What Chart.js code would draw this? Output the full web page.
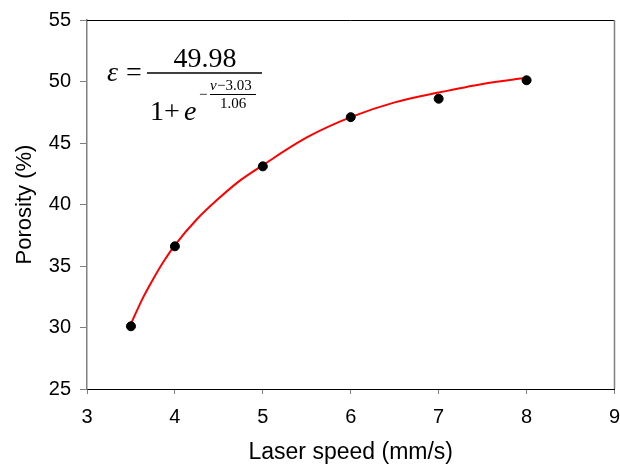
<!DOCTYPE html>
<html>
<head>
<meta charset="utf-8">
<script src="https://cdn.jsdelivr.net/npm/chart.js@4.4.1/dist/chart.umd.min.js"></script>
<style>
  html, body { margin: 0; padding: 0; background: #fff; }
</style>
</head>
<body>
<canvas id="chart" width="620" height="464"></canvas>
<script>
// measured points
const laserSpeed = [3.5, 4, 5, 6, 7, 8];
const porosity = [30.1, 36.6, 43.1, 47.1, 48.6, 50.1];

// fitted curve
const fitSpeed = [3.5, 3.625, 3.75, 3.875, 4.0, 4.25, 4.5, 4.75, 5.0, 5.5, 6.0, 6.5, 7.0, 7.5, 8.0];
const fitPorosity = [30.3, 32.25, 33.9, 35.4, 36.7, 38.8, 40.5, 42.0, 43.2, 45.45, 47.1, 48.3, 49.1, 49.8, 50.3];

const xTicks = [3, 4, 5, 6, 7, 8, 9];
const yTicks = [25, 30, 35, 40, 45, 50, 55];

const GRAY = '#808080';
const SANS = "'Liberation Sans', Arial, sans-serif";
const SERIF = "'Liberation Serif', 'Times New Roman', serif";

// top and right edges of the box
const frame = {
    id: 'frame',
    afterDraw(chart) {
        const { ctx, chartArea: a } = chart;
        ctx.save();
        ctx.lineWidth = 1;
        ctx.strokeStyle = '#000';
        ctx.beginPath();
        ctx.moveTo(a.left, a.top + 0.5);
        ctx.lineTo(a.right, a.top + 0.5);
        ctx.stroke();
        ctx.lineWidth = 1.5;
        ctx.strokeStyle = GRAY;
        ctx.beginPath();
        ctx.moveTo(a.right, a.top);
        ctx.lineTo(a.right, a.bottom);
        ctx.stroke();
        ctx.restore();
    }
};

// fit equation in the upper left corner
const equation = {
    id: 'equation',
    afterDraw(chart) {
        const ctx = chart.ctx;
        ctx.save();
        ctx.fillStyle = '#000';
        ctx.strokeStyle = '#000';
        ctx.textBaseline = 'alphabetic';

        ctx.font = `italic 28px ${SERIF}`;
        ctx.textAlign = 'left';
        ctx.fillText('ε', 107, 81);
        ctx.font = `28px ${SERIF}`;
        ctx.fillText('=', 126, 81);

        ctx.textAlign = 'center';
        ctx.fillText('49.98', 205, 67);

        ctx.lineWidth = 1.5;
        ctx.beginPath();
        ctx.moveTo(147, 73);
        ctx.lineTo(262, 73);
        ctx.stroke();

        ctx.textAlign = 'left';
        ctx.font = `28px ${SERIF}`;
        ctx.fillText('1', 150, 120);
        ctx.fillText('+', 164, 120);
        ctx.font = `italic 28px ${SERIF}`;
        ctx.fillText('e', 184, 120);

        // exponent
        ctx.font = `15px ${SERIF}`;
        ctx.fillText('−', 199, 99);
        ctx.font = `italic 15px ${SERIF}`;
        ctx.fillText('v', 210, 90);
        ctx.font = `15px ${SERIF}`;
        ctx.fillText('−3.03', 217, 90);
        ctx.lineWidth = 1;
        ctx.beginPath();
        ctx.moveTo(210, 94.5);
        ctx.lineTo(256, 94.5);
        ctx.stroke();
        ctx.textAlign = 'center';
        ctx.fillText('1.06', 233, 108);
        ctx.restore();
    }
};

new Chart(document.getElementById('chart'), {
    type: 'scatter',
    data: {
        datasets: [
            {
                label: 'Porosity',
                data: laserSpeed.map((x, i) => ({ x: x, y: porosity[i] })),
                backgroundColor: '#000',
                borderColor: '#000',
                pointRadius: 4.5,
                showLine: false
            },
            {
                label: 'Fit',
                data: fitSpeed.map((x, i) => ({ x: x, y: fitPorosity[i] })),
                showLine: true,
                borderColor: '#ff0000',
                borderWidth: 2,
                pointRadius: 0,
                cubicInterpolationMode: 'monotone'
            }
        ]
    },
    options: {
        responsive: false,
        animation: false,
        devicePixelRatio: 1,
        layout: { padding: { top: 20, right: 5, left: 0, bottom: 0 } },
        plugins: {
            legend: { display: false },
            tooltip: { enabled: false }
        },
        scales: {
            x: {
                type: 'linear',
                min: xTicks[0],
                max: xTicks[xTicks.length - 1],
                afterBuildTicks: s => { s.ticks = xTicks.map(v => ({ value: v })); },
                afterFit: s => { s.height = 75; s.paddingLeft = 0; s.paddingRight = 0; },
                grid: {
                    drawOnChartArea: false,
                    drawTicks: true,
                    tickLength: 5,
                    tickColor: GRAY
                },
                border: { color: '#000', width: 1 },
                ticks: {
                    color: '#000',
                    padding: 11,
                    font: { family: SANS, size: 20 }
                },
                title: {
                    display: true,
                    text: 'Laser speed (mm/s)',
                    color: '#000',
                    padding: { top: 0, bottom: -2 },
                    font: { family: SANS, size: 23 }
                }
            },
            y: {
                type: 'linear',
                min: yTicks[0],
                max: yTicks[yTicks.length - 1],
                afterBuildTicks: s => { s.ticks = yTicks.map(v => ({ value: v })); },
                afterFit: s => { s.width = 87; s.paddingTop = 0; s.paddingBottom = 0; },
                grid: {
                    drawOnChartArea: false,
                    drawTicks: true,
                    tickLength: 7,
                    tickColor: GRAY
                },
                border: { color: GRAY, width: 1.5 },
                ticks: {
                    color: '#000',
                    padding: 9,
                    font: { family: SANS, size: 20 }
                },
                title: {
                    display: true,
                    text: 'Porosity (%)',
                    color: '#000',
                    padding: { top: 12, bottom: 0 },
                    font: { family: SANS, size: 22 }
                }
            }
        }
    },
    plugins: [frame, equation]
});
</script>
</body>
</html>
